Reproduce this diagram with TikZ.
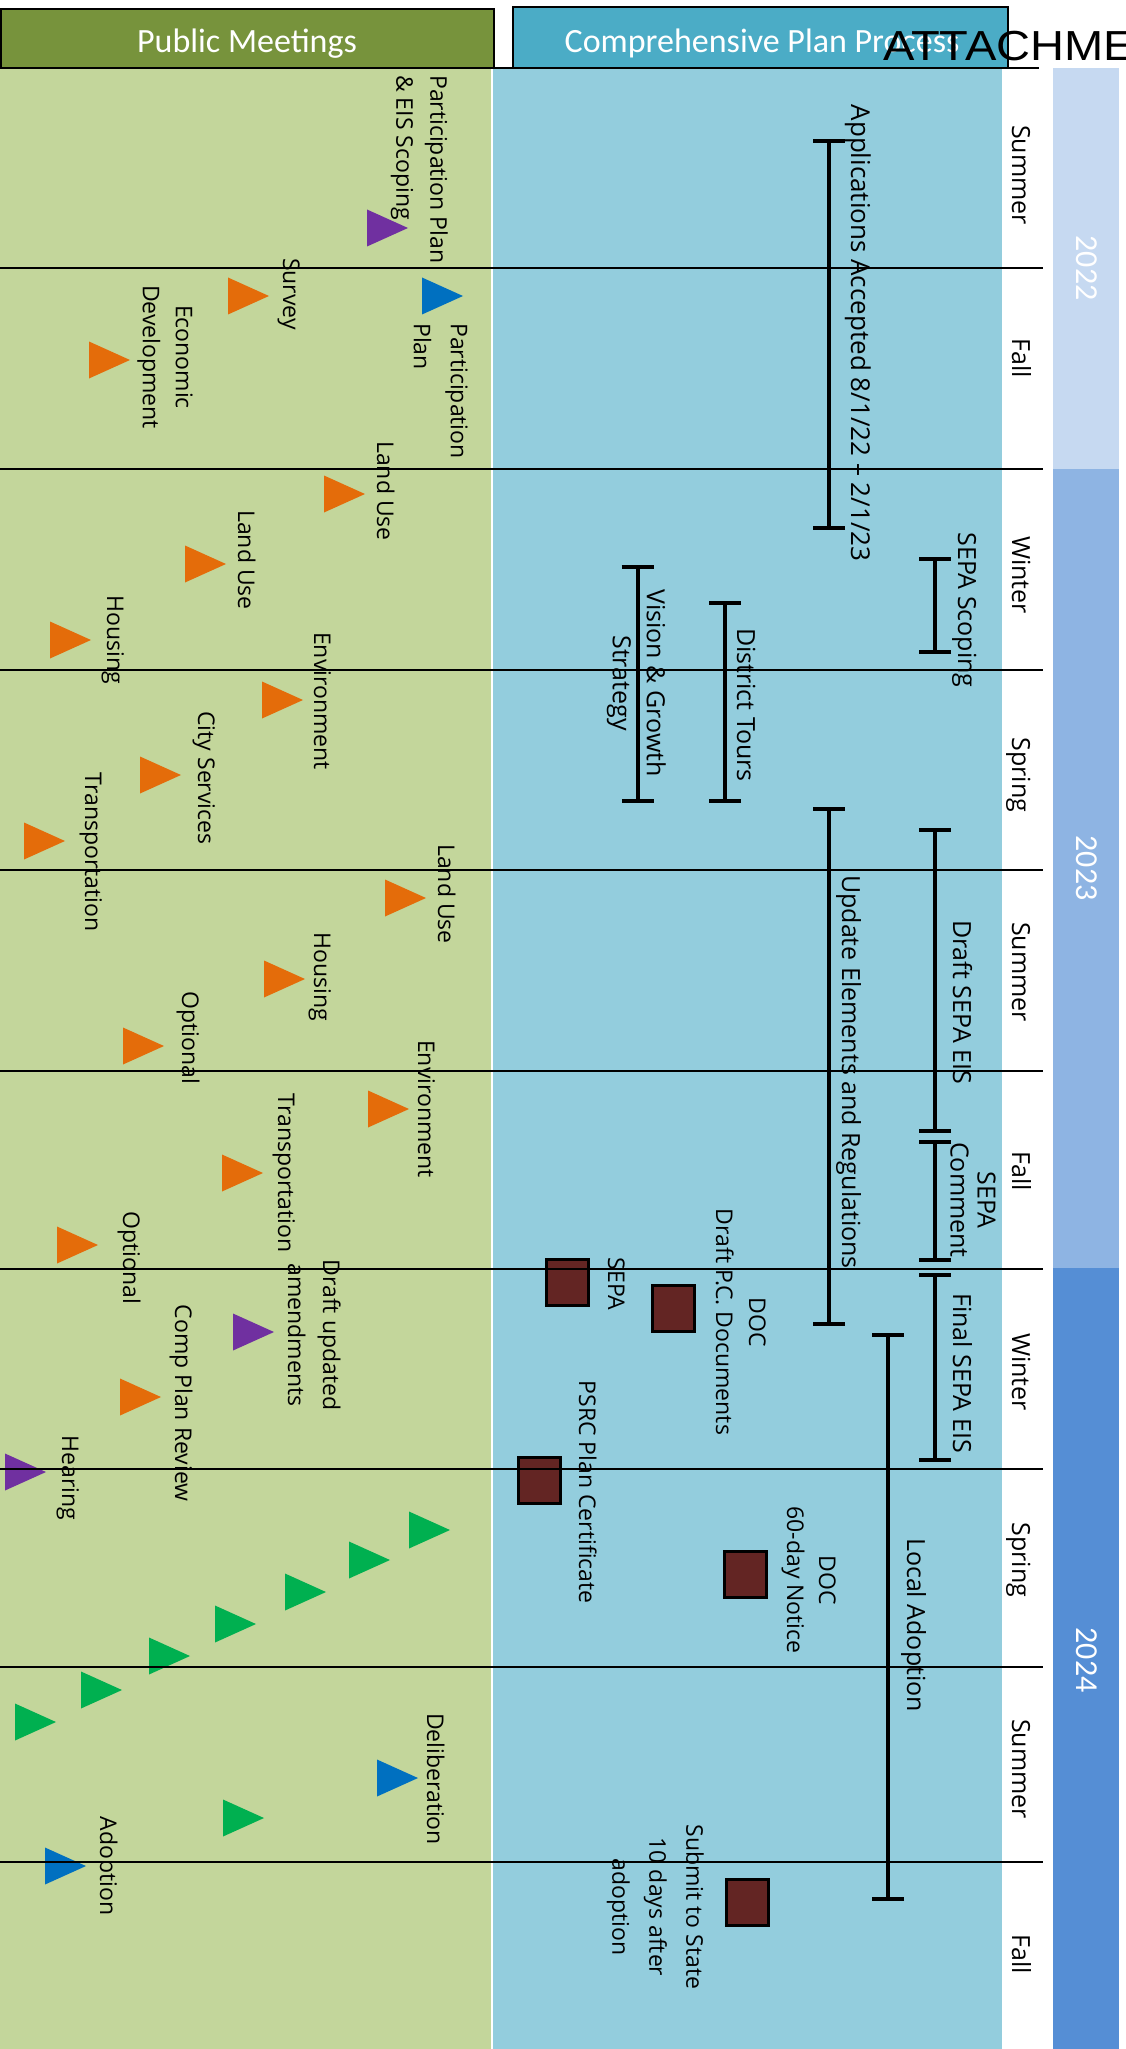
\documentclass[tikz,border=0pt]{standalone}
\usepackage{fontspec}
\setmainfont{Open Sans}
\newfontfamily\hdrfont{Carlito}
\newfontfamily\attfont{Liberation Sans}
\usetikzlibrary{arrows.meta}
\definecolor{gLight}{HTML}{C3D69B}
\definecolor{hGreen}{HTML}{77933C}
\definecolor{bLight}{HTML}{93CDDD}
\definecolor{hBlue}{HTML}{4BACC6}
\definecolor{yA}{HTML}{C6D9F1}
\definecolor{yB}{HTML}{8EB4E3}
\definecolor{yC}{HTML}{558ED5}
\definecolor{tOrange}{HTML}{E46C0A}
\definecolor{tPurple}{HTML}{7030A0}
\definecolor{tBlue}{HTML}{0070C0}
\definecolor{tGreen}{HTML}{00B050}
\definecolor{sqRed}{HTML}{632523}
\newcommand\mtri[3]{\fill[#1] (#2,#3) ++(0,-18.5) -- ++(41,18.5) -- ++(-41,18.5) -- cycle;}
\begin{document}
\begin{tikzpicture}[x=1pt,y=-1pt,
  lbl/.style={inner sep=0pt, rotate=-90, font=\fontsize{23}{34}\selectfont},
  lblb/.style={inner sep=0pt, rotate=-90, font=\fontsize{25}{34}\selectfont},
  bar/.style={line width=4pt, {Bar[width=32pt]}-{Bar[width=32pt]}},
  gridl/.style={line width=2pt, black},
  msq/.style={draw=black, line width=3pt, fill=sqRed, minimum width=42pt, minimum height=46pt, inner sep=0pt},
  yr/.style={inner sep=0pt, rotate=-90, text=white, font=\hdrfont\fontsize{32}{32}\selectfont},
  hdr/.style={inner sep=0pt, text=white, font=\hdrfont\fontsize{34}{34}\selectfont}
]
\useasboundingbox (0,0) rectangle (1125,2049);
\clip (0,0) rectangle (1125,2049);
\fill[white] (0,0) rectangle (1125,2049);
% header boxes
\draw[line width=2pt, fill=hGreen] (1,9) rectangle (494,68);
\draw[line width=2pt, fill=hBlue] (513,7) rectangle (1008,68);
\node[hdr, anchor=base] (hpm) at (247,53) {Public Meetings};
\node[hdr, anchor=base] (hcp) at (762,53) {Comprehensive Plan Process};
\node[anchor=base west, inner sep=0pt, xscale=1.12, font=\attfont\fontsize{42}{42}\selectfont] (att) at (883,61) {ATTACHMENT};
% regions
\fill[gLight] (0,68) rectangle (491,2049);
\fill[bLight] (493,68) rectangle (1002,2049);
\fill[yA] (1053,68) rectangle (1119,469);
\fill[yB] (1053,469) rectangle (1119,1268);
\fill[yC] (1053,1268) rectangle (1119,2049);
% years
\node[yr] (y22) at (1087,268) {2022};
\node[yr] (y23) at (1087,868) {2023};
\node[yr] (y24) at (1087,1660) {2024};
% seasons
\node[lblb, anchor=base] (s1) at (1012,175) {Summer};
\node[lblb, anchor=base] (s2) at (1012,358) {Fall};
\node[lblb, anchor=base] (s3) at (1012,575) {Winter};
\node[lblb, anchor=base] (s4) at (1012,775) {Spring};
\node[lblb, anchor=base] (s5) at (1012,972) {Summer};
\node[lblb, anchor=base] (s6) at (1012,1171) {Fall};
\node[lblb, anchor=base] (s7) at (1012,1372) {Winter};
\node[lblb, anchor=base] (s8) at (1012,1560) {Spring};
\node[lblb, anchor=base] (s9) at (1012,1769) {Summer};
\node[lblb, anchor=base] (s10) at (1012,1954) {Fall};
% triangles
\mtri{tPurple}{367}{228}
\mtri{tBlue}{422}{296}
\mtri{tOrange}{228}{296}
\mtri{tOrange}{89}{360}
\mtri{tOrange}{324}{494}
\mtri{tOrange}{185}{564}
\mtri{tOrange}{50}{640}
\mtri{tOrange}{262}{700}
\mtri{tOrange}{140}{775}
\mtri{tOrange}{24}{841}
\mtri{tOrange}{385}{898}
\mtri{tOrange}{264}{979}
\mtri{tOrange}{123}{1046}
\mtri{tOrange}{368}{1109}
\mtri{tOrange}{222}{1173}
\mtri{tOrange}{57}{1245}
\mtri{tPurple}{233}{1332}
\mtri{tOrange}{120}{1397}
\mtri{tPurple}{5}{1472}
\mtri{tGreen}{409}{1530}
\mtri{tGreen}{349}{1560}
\mtri{tGreen}{285}{1592}
\mtri{tGreen}{215}{1624}
\mtri{tGreen}{149}{1656}
\mtri{tGreen}{81}{1690}
\mtri{tGreen}{15}{1722}
\mtri{tBlue}{377}{1778}
\mtri{tGreen}{223}{1818}
\mtri{tBlue}{45}{1866}
% squares
\node[msq] (sqSepa) at (567.5,1282.5) {};
\node[msq] (sqDraft) at (673.5,1308.5) {};
\node[msq] (sqPsrc) at (539,1480.5) {};
\node[msq] (sqNotice) at (745.5,1574.5) {};
\node[msq] (sqSubmit) at (747.5,1902.5) {};
% grid lines
\draw[gridl] (0,68) -- (1039,68);
\foreach \yy in {268,469,670,870,1071,1269,1469,1667,1862}
  \draw[gridl] (0,\yy) -- (1043,\yy);
% process bars
\coordinate (appT) at (829,139); \coordinate (appB) at (829,530);
\draw[bar] (appT) -- (appB);
\coordinate (scoT) at (935,557); \coordinate (scoB) at (935,654);
\draw[bar] (scoT) -- (scoB);
\coordinate (touT) at (725,601); \coordinate (touB) at (725,803);
\draw[bar] (touT) -- (touB);
\coordinate (visT) at (637.5,565); \coordinate (visB) at (637.5,803);
\draw[bar] (visT) -- (visB);
\coordinate (updT) at (829,807); \coordinate (updB) at (829,1326);
\draw[bar] (updT) -- (updB);
\coordinate (drfT) at (935,828); \coordinate (drfB) at (935,1133);
\draw[bar] (drfT) -- (drfB);
\coordinate (comT) at (935,1140); \coordinate (comB) at (935,1262);
\draw[bar] (comT) -- (comB);
\coordinate (finT) at (935,1273); \coordinate (finB) at (935,1462);
\draw[bar] (finT) -- (finB);
\coordinate (locT) at (888,1333); \coordinate (locB) at (888,1901);
\draw[bar] (locT) -- (locB);
% process labels
\node[lblb, anchor=base, font=\fontsize{26}{34}\selectfont] (lApp) at (851,333) {Applications Accepted 8/1/22 – 2/1/23};
\node[lblb, anchor=base] (lSco) at (958,610) {SEPA Scoping};
\node[lblb, anchor=base] (lTou) at (737,705) {District Tours};
\node[lblb, anchor=north, align=center] (lVis) at (666,683) {Vision \& Growth\\Strategy};
\node[lblb, anchor=base] (lUpd) at (842,1072) {Update Elements and Regulations};
\node[lblb, anchor=base] (lDrf) at (953,1002) {Draft SEPA EIS};
\node[lblb, anchor=north, align=center, font=\fontsize{25}{27}\selectfont] (lCom) at (996,1200) {SEPA\\Comment};
\node[lblb, anchor=base] (lFin) at (953,1373) {Final SEPA EIS};
\node[lblb, anchor=base] (lLoc) at (907,1625) {Local Adoption};
% milestone labels
\node[lbl, anchor=base] (mSepa) at (608,1284) {SEPA};
\node[lbl, anchor=north, align=center, font=\fontsize{23}{33}\selectfont] (mDraft) at (766,1322) {DOC\\Draft P.C. Documents};
\node[lbl, anchor=base] (mPsrc) at (579,1492) {PSRC Plan Certificate};
\node[lbl, anchor=north, align=center, font=\fontsize{23}{32}\selectfont] (mNot) at (836,1580) {DOC\\60-day Notice};
\node[lbl, anchor=north, align=center, font=\fontsize{23}{37}\selectfont] (mSub) at (704,1907) {Submit to State\\10 days after\\adoption};
% meeting labels
\node[lbl, anchor=north west, align=left] (pEis) at (448,75) {Participation Plan\\\& EIS Scoping};
\node[lbl, anchor=north west, align=left, font=\fontsize{23}{37}\selectfont] (pPlan) at (468,323) {Participation\\Plan};
\node[lbl, anchor=base] (pSur) at (283,294) {Survey};
\node[lbl, anchor=north, align=center, font=\fontsize{23}{33}\selectfont] (pEco) at (193,357) {Economic\\Development};
\node[lbl, anchor=base] (pLu1) at (377,491) {Land Use};
\node[lbl, anchor=base] (pLu2) at (238,560) {Land Use};
\node[lbl, anchor=base] (pHo1) at (107,640) {Housing};
\node[lbl, anchor=base] (pEn1) at (314,701) {Environment};
\node[lbl, anchor=base] (pCit) at (198,778) {City Services};
\node[lbl, anchor=base] (pTr1) at (85,852) {Transportation};
\node[lbl, anchor=base] (pLu3) at (438,894) {Land Use};
\node[lbl, anchor=base] (pHo2) at (314,977) {Housing};
\node[lbl, anchor=base] (pOp1) at (182,1038) {Optional};
\node[lbl, anchor=base] (pEn2) at (418,1109) {Environment};
\node[lbl, anchor=base] (pTr2) at (278,1173) {Transportation};
\node[lbl, anchor=base] (pOp2) at (123,1258) {Optional};
\node[lbl, anchor=north, align=center, font=\fontsize{23}{35}\selectfont] (pAme) at (341,1335) {Draft updated\\amendments};
\node[lbl, anchor=base] (pRev) at (175,1403) {Comp Plan Review};
\node[lbl, anchor=base] (pHea) at (62,1478) {Hearing};
\node[lbl, anchor=base] (pDel) at (427,1779) {Deliberation};
\node[lbl, anchor=base] (pAdo) at (100,1866) {Adoption};
\end{tikzpicture}
\end{document}
